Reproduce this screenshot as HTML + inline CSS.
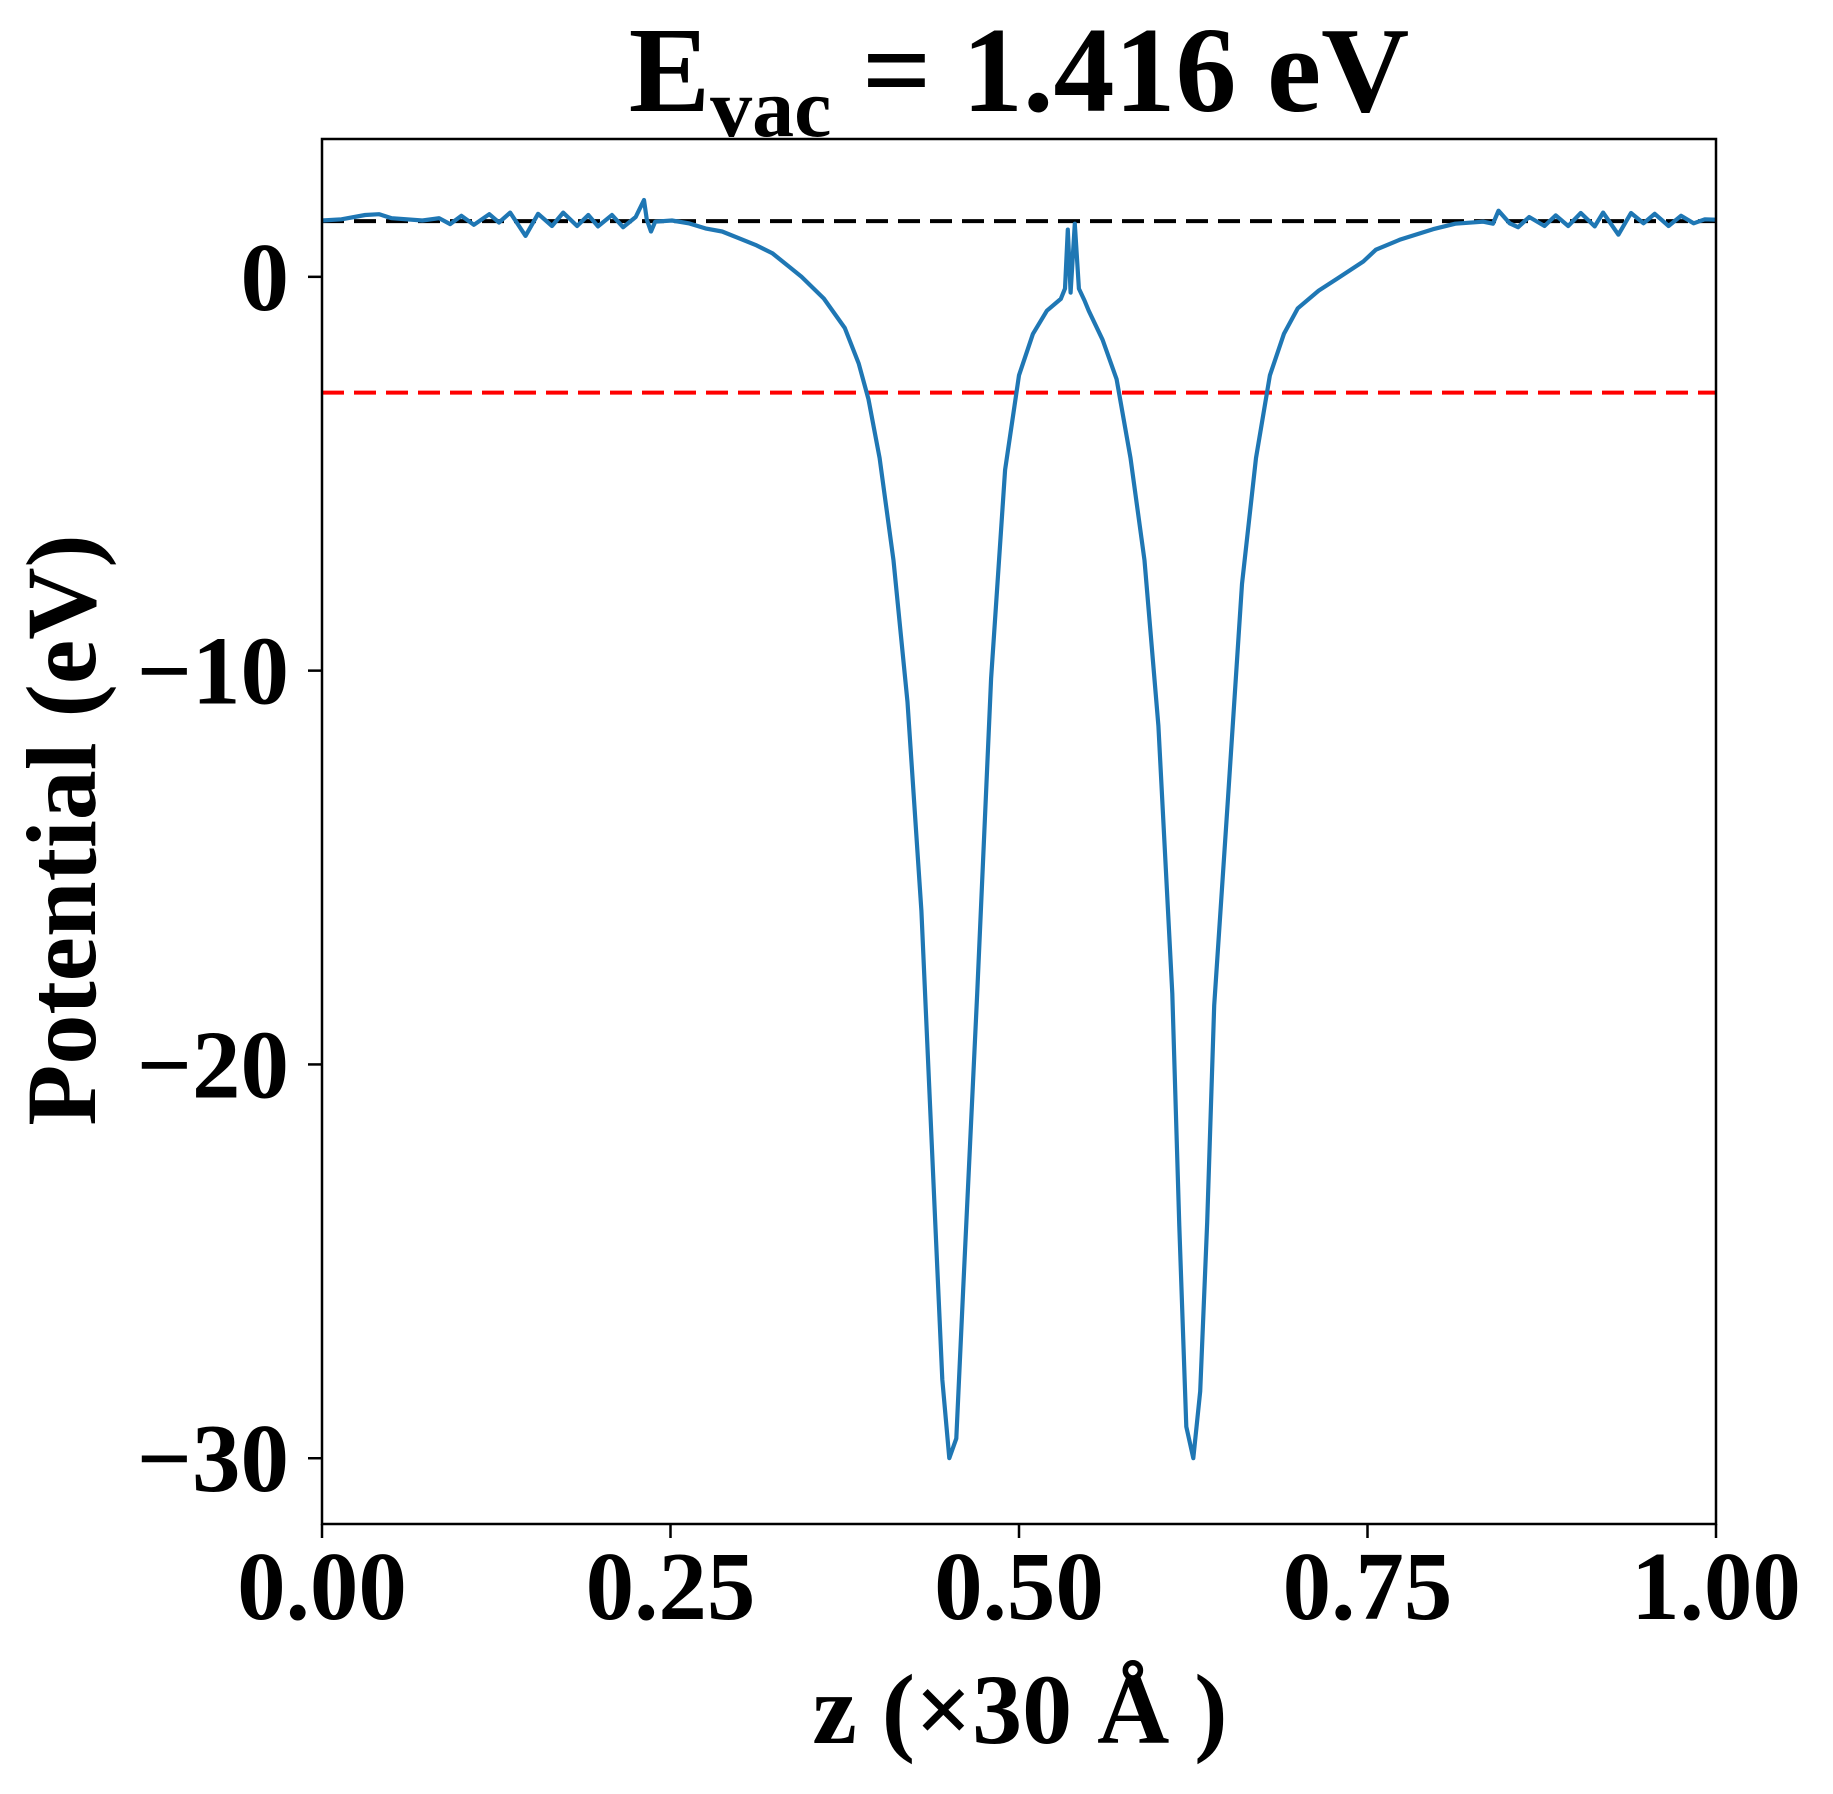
<!DOCTYPE html>
<html><head><meta charset="utf-8"><style>
html,body{margin:0;padding:0;background:#fff;}
svg{display:block;}
text{font-family:"Liberation Serif",serif;font-weight:bold;fill:#000;}
</style></head><body>
<svg id="chart" width="1833" height="1794" viewBox="0 0 1833 1794" xmlns="http://www.w3.org/2000/svg">
<g id="plot"></g>
<text x="1019" y="111" font-size="122" text-anchor="middle">E<tspan font-size="84" dy="25">vac</tspan><tspan dy="-25"> = 1.416 eV</tspan></text>
<text x="1020" y="1743" font-size="100" text-anchor="middle">z (×30 Å )</text>
<text transform="translate(95,830) rotate(-90)" font-size="100" text-anchor="middle">Potential (eV)</text>
</svg>
<script>
const zValues=[0,0.014,0.031,0.041,0.05,0.072,0.084,0.092,0.1,0.109,0.12,0.127,0.135,0.146,0.155,0.165,0.173,0.183,0.191,0.198,0.208,0.216,0.225,0.231,0.233,0.236,0.239,0.251,0.263,0.275,0.287,0.299,0.311,0.323,0.335,0.344,0.36,0.375,0.385,0.392,0.4,0.41,0.42,0.43,0.44,0.445,0.45,0.455,0.46,0.47,0.48,0.49,0.5,0.51,0.52,0.53,0.533,0.535,0.537,0.54,0.543,0.547,0.55,0.56,0.57,0.58,0.59,0.6,0.61,0.615,0.62,0.625,0.63,0.635,0.64,0.65,0.66,0.67,0.68,0.69,0.7,0.715,0.729,0.747,0.756,0.773,0.797,0.813,0.833,0.84,0.844,0.852,0.858,0.866,0.877,0.885,0.894,0.903,0.913,0.919,0.93,0.939,0.948,0.956,0.966,0.975,0.984,0.992,1.0];
const potValues=[1.43,1.46,1.57,1.59,1.49,1.43,1.49,1.34,1.55,1.32,1.59,1.38,1.63,1.04,1.6,1.29,1.63,1.29,1.57,1.28,1.57,1.26,1.52,1.95,1.45,1.15,1.4,1.43,1.36,1.23,1.15,0.98,0.81,0.6,0.26,0,-0.55,-1.3,-2.2,-3.1,-4.6,-7.2,-10.8,-16.1,-24.1,-28,-30,-29.5,-25.7,-18.2,-10.2,-4.9,-2.5,-1.45,-0.86,-0.56,-0.3,1.2,-0.4,1.35,-0.3,-0.6,-0.86,-1.6,-2.6,-4.6,-7.2,-11.4,-18.2,-24.1,-29.2,-30,-28.3,-24,-18.5,-13.2,-7.8,-4.6,-2.5,-1.45,-0.8,-0.35,-0.03,0.39,0.69,0.94,1.21,1.35,1.4,1.35,1.68,1.36,1.26,1.52,1.29,1.56,1.29,1.62,1.28,1.63,1.07,1.62,1.36,1.6,1.29,1.55,1.36,1.46,1.45];
const xTicks=[0,0.25,0.5,0.75,1.0];
const xTickLabels=["0.00","0.25","0.50","0.75","1.00"];
const yTicks=[0,-10,-20,-30];
const yTickLabels=["0","\u221210","\u221220","\u221230"];
const vacuumLevel=[1.416];
const fermiLevel=[-2.94];

const L=322,R=1716,T=139,B=1524,xMin=0,xMax=1,yMin=-31.67,yMax=3.5;
const NS="http://www.w3.org/2000/svg";
const g=document.getElementById('plot');
function sx(v){return L+(v-xMin)/(xMax-xMin)*(R-L);}
function sy(v){return B-(v-yMin)/(yMax-yMin)*(B-T);}
function mk(tag,attrs){const e=document.createElementNS(NS,tag);for(const k in attrs)e.setAttribute(k,attrs[k]);g.appendChild(e);return e;}

const vl=mk('line',{x1:L,x2:R,y1:sy(vacuumLevel[0]),y2:sy(vacuumLevel[0]),stroke:'#000','stroke-width':4,'stroke-dasharray':'22 10'});


const fl=mk('line',{x1:L,x2:R,y1:sy(fermiLevel[0]),y2:sy(fermiLevel[0]),stroke:'#ff0000','stroke-width':4,'stroke-dasharray':'22 10'});



let d='';
zValues.forEach((z,i)=>{d+=(i?'L':'M')+sx(z).toFixed(1)+','+sy(potValues[i]).toFixed(1);});
const pl=mk('path',{d:d,fill:'none',stroke:'#1f77b4','stroke-width':4.2,'stroke-linejoin':'round'});



const fr=mk('rect',{x:L,y:T,width:R-L,height:B-T,fill:'none',stroke:'#000','stroke-width':2.5});



xTicks.forEach((v,i)=>{
  const t=mk('line',{x1:sx(v),x2:sx(v),y1:B,y2:B+14,stroke:'#000','stroke-width':2.5});
  
  
  const l=mk('text',{x:sx(v),y:1619,'font-size':97,'text-anchor':'middle'});
  l.textContent=xTickLabels[i];
  
  
});
yTicks.forEach((v,i)=>{
  const t=mk('line',{x1:L-14,x2:L,y1:sy(v),y2:sy(v),stroke:'#000','stroke-width':2.5});
  
  
  const l=mk('text',{x:289,y:sy(v)+33,'font-size':97,'text-anchor':'end'});
  l.textContent=yTickLabels[i];
  
  
});
</script>
</body></html>
